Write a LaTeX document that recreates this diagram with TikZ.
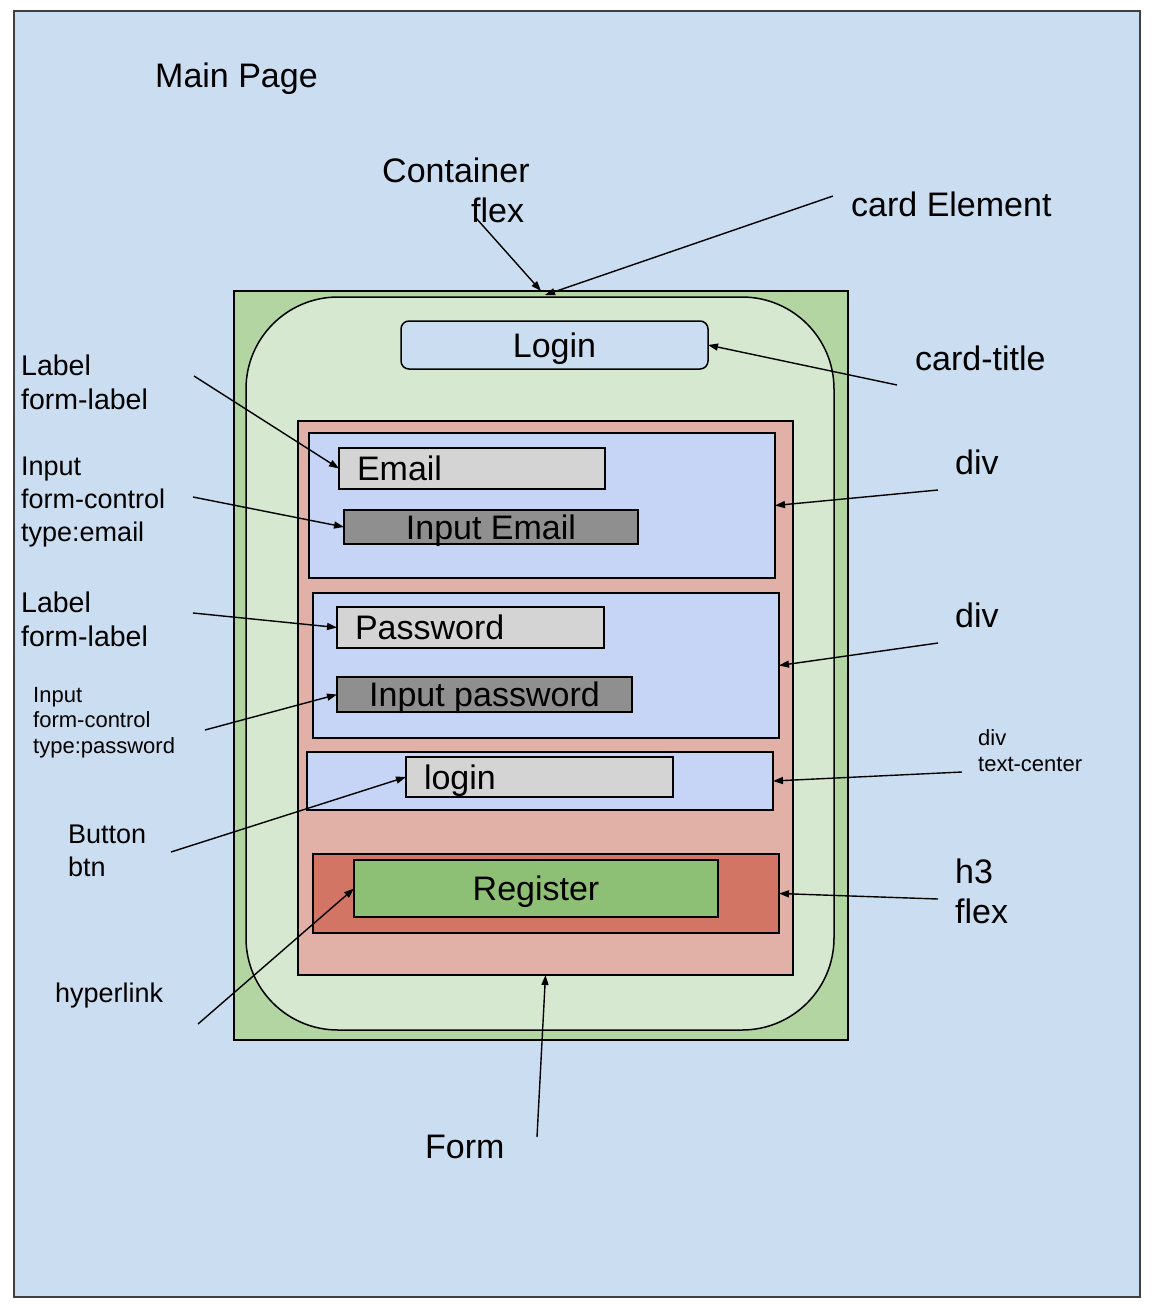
\documentclass[tikz,border=0pt]{standalone}
\usepackage{fontspec}
\setmainfont{Liberation Sans}
\usetikzlibrary{arrows.meta}
\definecolor{pagebg}{HTML}{CBDDF1}
\definecolor{cardout}{HTML}{B3D5A2}
\definecolor{cardin}{HTML}{D7E8D0}
\definecolor{formc}{HTML}{E1B0A7}
\definecolor{divc}{HTML}{C6D4F5}
\definecolor{lgray}{HTML}{D4D4D4}
\definecolor{dgray}{HTML}{8F8F8F}
\definecolor{h3c}{HTML}{D27564}
\definecolor{regc}{HTML}{8DBF75}
\tikzset{
  box/.style={draw=black, line width=1.5pt, inner sep=0pt, outer sep=0pt, anchor=north west},
  boxtext/.style={font=\fontsize{34}{40}\selectfont, text height=24pt, text depth=0pt},
  lefttext/.style={boxtext, inner xsep=18pt, align=left},
  txt/.style={inner sep=0pt, anchor=base west, align=left},
  fbig/.style={font=\fontsize{34}{40}\selectfont},
  flab/.style={font=\fontsize{28.5}{34}\selectfont},
  fmid/.style={font=\fontsize{27}{33}\selectfont},
  fsmall/.style={font=\fontsize{22}{25.5}\selectfont},
  conn/.style={draw=black, line width=1.4pt, -{Triangle[length=10pt,width=7pt]}},
}
\begin{document}
\begin{tikzpicture}[x=1pt,y=-1pt]
\fill[white] (0,0) rectangle (1168,1310);
\useasboundingbox (0,0) rectangle (1168,1310);

% containers
\node[box, fill=pagebg, draw=black!75, minimum width=1126pt, minimum height=1286pt] (page) at (14,11) {};
\node[box, fill=cardout, minimum width=614pt, minimum height=749pt] (card) at (234,291) {};
\node[box, fill=cardin, rounded corners=92pt, minimum width=588pt, minimum height=733pt] (cardbody) at (246,297) {};
\node[box, fill=pagebg, rounded corners=8pt, minimum width=307pt, minimum height=48pt, boxtext] (title) at (401,321) {Login};
\node[box, fill=formc, minimum width=495pt, minimum height=554pt] (form) at (298,421) {};
\node[box, fill=divc, minimum width=466pt, minimum height=145pt] (div1) at (309,433) {};
\node[box, fill=lgray, minimum width=266pt, minimum height=41pt, lefttext, text width=230pt] (email) at (339,448) {Email};
\node[box, fill=dgray, minimum width=294pt, minimum height=34pt, boxtext] (inemail) at (344,510) {Input Email};
\node[box, fill=divc, minimum width=466pt, minimum height=145pt] (div2) at (313,593) {};
\node[box, fill=lgray, minimum width=267pt, minimum height=41pt, lefttext, text width=231pt] (pass) at (337,607) {Password};
\node[box, fill=dgray, minimum width=295pt, minimum height=35pt, boxtext] (inpass) at (337,677) {Input password};
\node[box, fill=divc, minimum width=466pt, minimum height=58pt] (div3) at (307,752) {};
\node[box, fill=lgray, minimum width=267pt, minimum height=40pt, lefttext, text width=231pt] (loginbtn) at (406,757) {login};
\node[box, fill=h3c, minimum width=466pt, minimum height=79pt] (h3) at (313,854) {};
\node[box, fill=regc, minimum width=364pt, minimum height=57pt, boxtext] (register) at (354,860) {Register};

% labels (anchor = baseline of last line)
\node[txt, fbig] (tmain) at (155,87) {Main Page};
\node[txt, fbig] (tcont) at (382,222) {Container\\\hspace*{89pt}flex};
\node[txt, fbig] (tcard) at (851,216) {card Element};
\node[txt, fbig] (ttitle) at (915,370) {card-title};
\node[txt, fbig] (tdiv1) at (955,474) {div};
\node[txt, fbig] (tdiv2) at (955,627) {div};
\node[txt, fsmall] (tdiv3) at (978,771) {div\\text-center};
\node[txt, fbig] (th3) at (955,923) {h3\\flex};
\node[txt, fbig] (tform) at (425,1158) {Form};
\node[txt, flab] (tlab1) at (21,409) {Label\\form-label};
\node[txt, fmid] (tin1) at (21,541) {Input\\form-control\\type:email};
\node[txt, flab] (tlab2) at (21,646) {Label\\form-label};
\node[txt, fsmall] (tin2) at (33,753) {Input\\form-control\\type:password};
\node[txt, fmid] (tbtn) at (68,876) {Button\\btn};
\node[txt, fmid] (thyp) at (55,1002) {hyperlink};

% connector start points
\coordinate (sCont) at (476,218);
\coordinate (sCard) at (833,196);
\coordinate (sTitle) at (897,385);
\coordinate (sLab1) at (194,376);
\coordinate (sIn1) at (193,497);
\coordinate (sLab2) at (193,613);
\coordinate (sIn2) at (205,730);
\coordinate (sBtn) at (171,852);
\coordinate (sHyp) at (198,1024);
\coordinate (sDiv1) at (938,490);
\coordinate (sDiv2) at (938,643);
\coordinate (sDiv3) at (962,772);
\coordinate (sH3) at (938,899);
\coordinate (sForm) at (537,1137);

% connectors
\draw[conn] (sCont) -- (card.north);
\draw[conn] (sCard) -- ([xshift=4pt,yshift=-4pt]card.north);
\draw[conn] (sTitle) -- (title.east);
\draw[conn] (sLab1) -- (email.west);
\draw[conn] (sIn1) -- (inemail.west);
\draw[conn] (sLab2) -- (pass.west);
\draw[conn] (sIn2) -- (inpass.west);
\draw[conn] (sBtn) -- (loginbtn.west);
\draw[conn] (sHyp) -- (register.west);
\draw[conn] (sDiv1) -- (div1.east);
\draw[conn] (sDiv2) -- (div2.east);
\draw[conn] (sDiv3) -- (div3.east);
\draw[conn] (sH3) -- (h3.east);
\draw[conn] (sForm) -- (form.south);
\end{tikzpicture}
\end{document}
